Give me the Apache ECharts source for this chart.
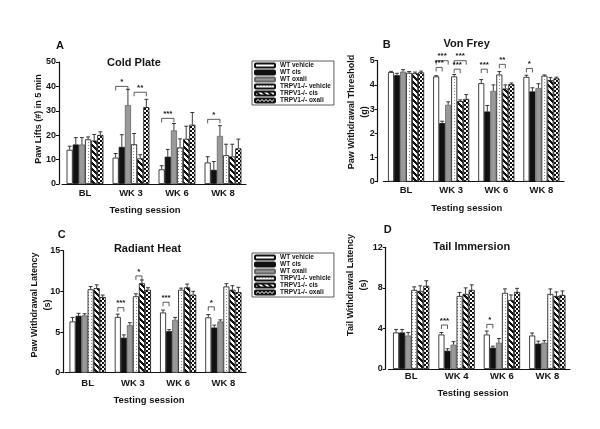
<!DOCTYPE html>
<html><head><meta charset="utf-8">
<script src="https://cdn.jsdelivr.net/npm/echarts@6/dist/echarts.min.js"></script>
<style>html,body{margin:0;padding:0;background:#fff}#c{width:600px;height:429px}</style>
</head><body><div id="c"></div>
<script>
const groups = ['WT vehicle','WT cis','WT oxali','TRPV1-/- vehicle','TRPV1-/- cis','TRPV1-/- oxali'];
const sessionsABC = ['BL','WK 3','WK 6','WK 8'];
const sessionsD = ['BL','WK 4','WK 6','WK 8'];

// A: Cold Plate (rows = groups, columns = sessions)
const coldMean = [
  [14.0,10.8,6.0,8.8],
  [16.2,15.2,11.2,5.8],
  [16.2,32.3,22.0,19.7],
  [18.3,16.3,15.0,11.8],
  [17.8,10.5,18.5,11.3],
  [20.1,31.5,24.3,14.6]];
const coldErr = [
  [1.5,1.7,1.5,2.4],
  [2.8,5.0,3.0,3.4],
  [2.8,6.5,2.8,4.2],
  [1.0,4.4,3.5,4.5],
  [2.5,1.5,5.2,5.0],
  [1.3,3.2,5.0,3.8]];
// [session, barFrom, barTo, height, stars]
const coldSig = [[1,0,2,40.0,1],[1,3,5,37.6,2],[2,0,2,26.9,3],[3,0,2,26.5,1]];

// B: Von Frey
const vfMean = [
  [4.53,4.35,4.07,4.33],
  [4.40,2.42,2.90,3.73],
  [4.55,3.18,3.75,3.87],
  [4.50,4.35,4.43,4.38],
  [4.48,3.33,3.85,4.20],
  [4.52,3.42,4.03,4.27]];
const vfErr = [
  [0.03,0.03,0.15,0.07],
  [0.08,0.08,0.25,0.15],
  [0.08,0.12,0.25,0.18],
  [0.05,0.08,0.12,0.03],
  [0.05,0.05,0.15,0.10],
  [0.05,0.18,0.05,0.05]];
const vfSig = [[1,0,2,5.0,3],[1,0,1,4.72,3],[1,3,5,5.0,3],[1,3,4,4.65,3],[2,0,1,4.65,3],[2,3,4,4.85,2],[3,0,1,4.68,1]];

// C: Radiant Heat
const rhMean = [
  [6.3,6.85,7.4,6.8],
  [7.0,4.3,5.1,5.55],
  [7.05,5.85,6.5,6.3],
  [10.25,9.4,10.2,10.6],
  [10.4,11.0,10.5,10.2],
  [9.3,10.2,9.6,9.9]];
const rhErr = [
  [0.5,0.35,0.3,0.35],
  [0.3,0.35,0.2,0.3],
  [0.2,0.3,0.3,0.2],
  [0.35,0.3,0.2,0.35],
  [0.4,0.4,0.4,0.5],
  [0.25,0.25,0.4,0.6]];
const rhSig = [[1,0,1,8.0,3],[1,3,4,11.9,1],[2,0,1,8.66,3],[3,0,1,8.1,1]];

// D: Tail Immersion
const tiMean = [
  [3.6,3.4,3.4,3.3],
  [3.6,1.8,2.1,2.5],
  [3.3,2.4,2.6,2.6],
  [7.8,7.2,7.5,7.4],
  [7.7,7.4,6.8,7.2],
  [8.2,7.8,7.6,7.3]];
const tiErr = [
  [0.3,0.2,0.35,0.25],
  [0.3,0.2,0.15,0.25],
  [0.3,0.3,0.4,0.2],
  [0.3,0.35,0.4,0.5],
  [0.5,0.6,0.5,0.4],
  [0.5,0.5,0.35,0.4]];
const tiSig = [[1,0,1,4.34,3],[2,0,1,4.4,1]];

const yMaxA=50, yIntA=10, yMaxB=5, yIntB=1, yMaxC=15, yIntC=5, yMaxD=12, yIntD=4;

function pat(w,h,draw){const c=document.createElement('canvas');c.width=w;c.height=h;const x=c.getContext('2d');x.fillStyle='#fff';x.fillRect(0,0,w,h);draw(x);return {image:c,repeat:'repeat'};}
const dots = pat(3,3,x=>{x.fillStyle='#888';x.fillRect(1,1,1,1);});
const stripes = pat(6,6,x=>{x.fillStyle='#111';for(let i=0;i<6;i++)for(let j=0;j<6;j++){if((((i-j)%6)+6)%6<3)x.fillRect(i,j,1,1);}});
const checker = pat(4,4,x=>{x.fillStyle='#111';x.fillRect(0,0,2,2);x.fillRect(2,2,2,2);});
const styles = [
  {color:'#fff',borderColor:'#111',borderWidth:0.8},
  {color:'#111',borderColor:'#111',borderWidth:0.8},
  {color:'#999',borderColor:'#666',borderWidth:0.8},
  {color:dots,borderColor:'#111',borderWidth:0.8},
  {color:stripes,borderColor:'#111',borderWidth:0.8},
  {color:checker,borderColor:'#111',borderWidth:0.8}];

const panels = [
  {cats:sessionsABC,mean:coldMean,err:coldErr,sig:coldSig,max:yMaxA,int:yIntA,grid:{left:62,top:62,width:184,height:122},off:3,lm:4.5},
  {cats:sessionsABC,mean:vfMean,err:vfErr,sig:vfSig,max:yMaxB,int:yIntB,grid:{left:383.5,top:60.7,width:180.5,height:121},off:5.8,lm:4},
  {cats:sessionsABC,mean:rhMean,err:rhErr,sig:rhSig,max:yMaxC,int:yIntC,grid:{left:65,top:250.7,width:181,height:122},off:1.7,lm:6},
  {cats:sessionsD,mean:tiMean,err:tiErr,sig:tiSig,max:yMaxD,int:yIntD,grid:{left:388.5,top:247.3,width:181.5,height:121.7},off:2.8,lm:2.5}];

const TXT='#151515', FONT='"Liberation Sans", Arial, sans-serif';
function barX(api,c,i){const band=api.size([1,0])[0];const bw=band*0.8/6;return {x:api.coord([c,0])[0]-band*0.4+(i+0.5)*bw,bw:bw};}
function renderErr(params,api){
  const c=api.value(0),i=api.value(1),v=api.value(2),e=api.value(3);
  const b=barX(api,c,i);const y0=api.coord([c,v])[1],y1=api.coord([c,v+e])[1];const hw=b.bw*0.32;
  return {type:'group',children:[
    {type:'line',shape:{x1:b.x,y1:y0,x2:b.x,y2:y1},style:{stroke:'#222',lineWidth:0.9}},
    {type:'line',shape:{x1:b.x-hw,y1:y1,x2:b.x+hw,y2:y1},style:{stroke:'#222',lineWidth:0.9}}]};
}
function renderSig(params,api){
  const c=api.value(0),a=api.value(1),bb=api.value(2),v=api.value(3),n=api.value(4);
  const xa=barX(api,c,a).x,xb=barX(api,c,bb).x;const y=api.coord([c,v])[1];
  return {type:'group',children:[
    {type:'polyline',shape:{points:[[xa,y+4],[xa,y],[xb,y],[xb,y+4]]},style:{stroke:'#333',lineWidth:0.8,fill:null}},
    {type:'text',x:(xa+xb)/2,y:y-0.5,style:{text:'*'.repeat(n),fill:TXT,font:'bold 8px '+FONT,align:'center',verticalAlign:'bottom'}}]};
}

const grid=[],xAxis=[],yAxis=[],series=[];
panels.forEach((p,k)=>{
  grid.push(p.grid);
  xAxis.push({type:'category',gridIndex:k,data:p.cats,axisLine:{lineStyle:{color:'#111',width:1.2}},
    axisTick:{alignWithLabel:true,length:3,lineStyle:{color:'#111'}},
    axisLabel:{color:TXT,fontWeight:'bold',fontSize:9.5,fontFamily:FONT,margin:p.lm}});
  yAxis.push({type:'value',gridIndex:k,min:0,max:p.max,interval:p.int,offset:p.off,splitLine:{show:false},
    axisLine:{show:true,lineStyle:{color:'#111',width:1.2}},axisTick:{show:true,length:3,lineStyle:{color:'#111'}},
    axisLabel:{color:TXT,fontWeight:'bold',fontSize:9,fontFamily:FONT,margin:3}});
  groups.forEach((g,i)=>series.push({type:'bar',name:g,xAxisIndex:k,yAxisIndex:k,data:p.mean[i],barGap:'0%',barCategoryGap:'20%',itemStyle:styles[i],silent:true}));
  const eb=[];p.mean.forEach((arr,i)=>arr.forEach((v,c)=>eb.push([c,i,v,p.err[i][c]])));
  series.push({type:'custom',xAxisIndex:k,yAxisIndex:k,data:eb,encode:{x:0,y:2},renderItem:renderErr,z:5,silent:true});
  series.push({type:'custom',xAxisIndex:k,yAxisIndex:k,data:p.sig,encode:{x:0,y:3},renderItem:renderSig,z:6,silent:true,clip:false});
});

function t(x,y,text,size,rot){return {type:'text',x:x,y:y,rotation:rot||0,style:{text:text,fill:TXT,font:'bold '+size+'px '+FONT,align:'center',verticalAlign:'middle',lineHeight:13}};}
const legendBase={orient:'vertical',itemWidth:20,itemHeight:4,itemGap:0,padding:[1,3,1,2],borderColor:'#333',borderWidth:0.8,
  textStyle:{fontSize:6.5,fontWeight:'bold',fontFamily:FONT,color:TXT},data:groups,selectedMode:false};

const chart=echarts.init(document.getElementById('c'),null,{renderer:'canvas'});
chart.setOption({
  animation:false,backgroundColor:'#fff',
  grid:grid,xAxis:xAxis,yAxis:yAxis,series:series,
  legend:[Object.assign({left:252,top:61},legendBase),Object.assign({left:252,top:253},legendBase)],
  graphic:[
    t(60,45.7,'A',11), t(134,63.3,'Cold Plate',11),
    t(386.7,45,'B',11), t(466.7,44,'Von Frey',11),
    t(61.7,235,'C',11), t(147.5,249,'Radiant Heat',11),
    t(387.7,230,'D',11), t(471.7,246.7,'Tail Immersion',11),
    t(39,119,'Paw Lifts (#) in 5 min',9,Math.PI/2),
    t(358,112,'Paw Withdrawal Threshold\n(g)',9,Math.PI/2),
    t(41,305,'Paw Withdrawal Latency\n(s)',9,Math.PI/2),
    t(357.5,285,'Tail Withdrawal Latency\n(s)',9,Math.PI/2),
    t(145,210,'Testing session',9.5), t(466.7,208.3,'Testing session',9.5),
    t(149,400,'Testing session',9.5), t(473,393,'Testing session',9.5)
  ]
});
</script></body></html>
